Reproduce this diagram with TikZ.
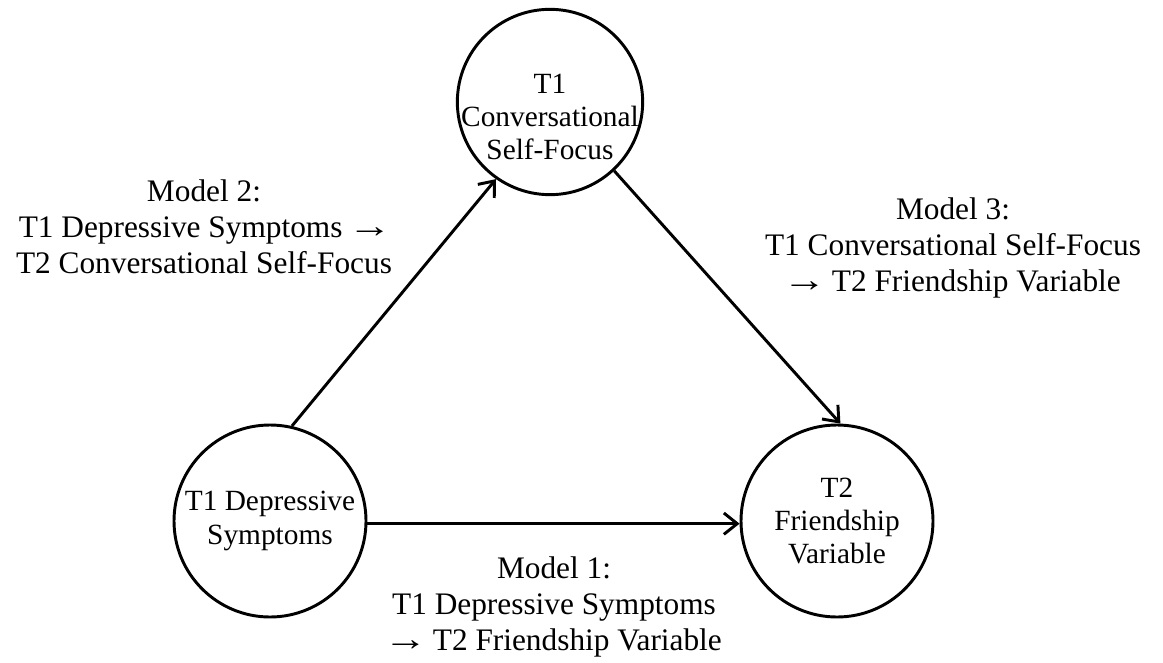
\documentclass[tikz,border=0pt]{standalone}
\usepackage{fontspec}
\setmainfont{Liberation Serif}
\usetikzlibrary{arrows.meta}
\newcommand{\modarrow}{\kern-0.08em\scalebox{1.4}[1.1]{→}\kern-0.08em}
\begin{document}
\begin{tikzpicture}[x=0.75pt,y=-0.75pt,font=\fontsize{22}{25}\selectfont,
  var/.style={draw, circle, line width=2.2pt, minimum size=144pt, inner sep=0pt, align=center},
  path/.style={line width=2.2pt, -{Straight Barb[length=10pt,width=16pt,line width=2.2pt]}},
  lab/.style={align=center, font=\fontsize{23.5}{27}\selectfont}]
\useasboundingbox (0,0) rectangle (1163,663);

\node[var] (dep) at (270,521) {T1 Depressive\\Symptoms};
\node[var,minimum size=139pt] (self) at (550,102) {};
\node[align=center] (selftxt) at (550,117) {T1\\Conversational\\Self-Focus};
\node[var] (friend) at (837,521) {T2\\Friendship\\Variable};

\draw[path] (dep.77) -- (self.235);
\draw[path] (self.313) -- (friend.88);
\draw[path] ([yshift=-2pt]dep.east) -- ([yshift=-2pt]friend.west);

\node[lab] (m2) at (204,227) {Model 2:\\T1 Depressive Symptoms \modarrow\\T2 Conversational Self-Focus};
\node[lab] (m3) at (953,248) {Model 3:\\T1 Conversational Self-Focus\\\modarrow{} T2 Friendship Variable};
\node[lab] (m1) at (554,607) {Model 1:\\T1 Depressive Symptoms\\\modarrow{} T2 Friendship Variable};
\end{tikzpicture}
\end{document}
